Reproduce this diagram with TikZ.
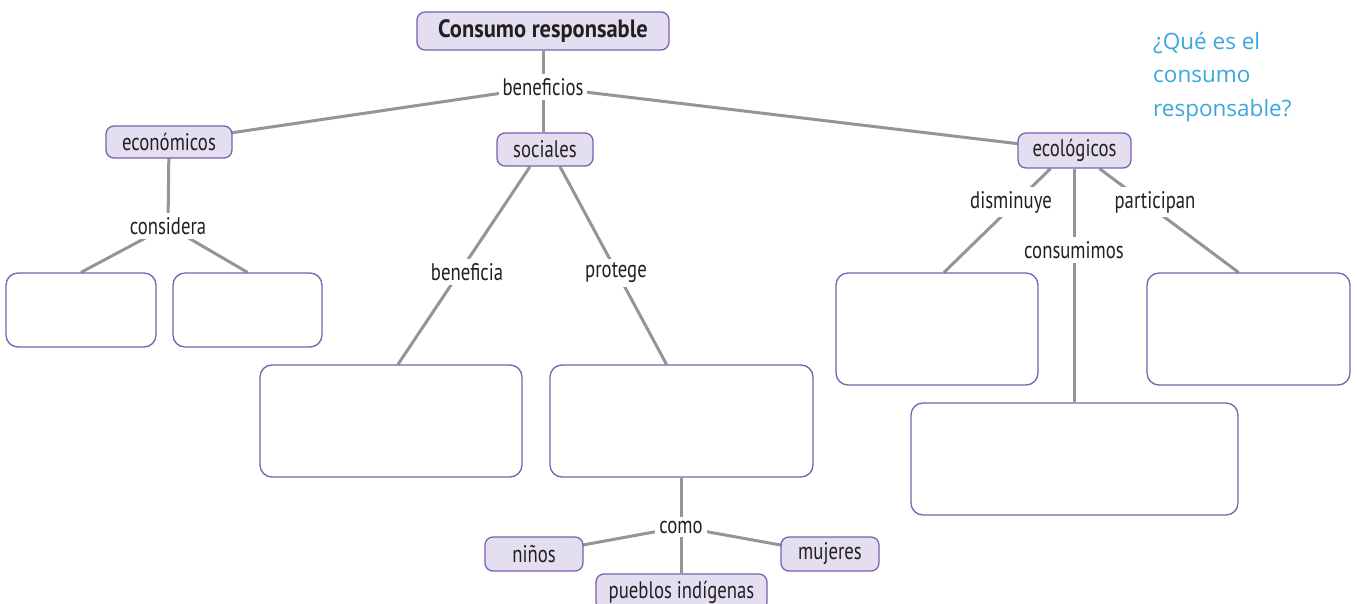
\documentclass[tikz,border=0pt]{standalone}
\usepackage{fontspec}
\setmainfont{PT Sans}[FakeStretch=0.78]
\newfontfamily\titlefont{PT Sans}[FakeStretch=0.9]
\newfontfamily\qfont{Open Sans}
\usetikzlibrary{calc,backgrounds}
\definecolor{boxborder}{HTML}{7B5FB0}
\definecolor{boxfill}{HTML}{E4DFF0}
\definecolor{linegray}{HTML}{959595}
\definecolor{txt}{HTML}{231F20}
\definecolor{qblue}{HTML}{3BA6DD}
\begin{document}
\begin{tikzpicture}[x=1pt,y=-1pt,
  concept/.style={draw=boxborder, fill=boxfill, rounded corners=8pt, line width=1.3pt, inner sep=0pt, text=txt, font=\fontsize{24}{26}\selectfont},
  lab/.style={fill=white, inner sep=4pt, text=txt, font=\fontsize{24}{26}\selectfont},
  blank/.style={draw=boxborder, fill=white, rounded corners=12pt, line width=1.3pt, inner sep=0pt},
  link/.style={draw=linegray, line width=3pt}]
\useasboundingbox (0,0) rectangle (1357,604);
% concept boxes
\node[concept, minimum width=252, minimum height=38, font=\titlefont\fontsize{25}{27}\selectfont\bfseries] (title) at (543,31) {Consumo responsable};
\node[concept, minimum width=126, minimum height=32] (econ) at (169,142) {económicos};
\node[concept, minimum width=96, minimum height=33] (soc) at (545,149.5) {sociales};
\node[concept, minimum width=113, minimum height=35] (eco) at (1074.5,150.5) {ecológicos};
\node[concept, minimum width=98, minimum height=34] (ninos) at (534,554) {niños};
\node[concept, minimum width=98, minimum height=34] (mujeres) at (830,554) {mujeres};
\node[concept, minimum width=171, minimum height=36] (pueblos) at (681.5,592) {pueblos indígenas};
% blank boxes
\node[blank, minimum width=150, minimum height=74] (e1) at (81,310) {};
\node[blank, minimum width=149, minimum height=74] (e2) at (247.5,310) {};
\node[blank, minimum width=262, minimum height=112] (boxB) at (391,421) {};
\node[blank, minimum width=263, minimum height=112] (boxP) at (681.5,421) {};
\node[blank, minimum width=202, minimum height=112] (boxD) at (937,329) {};
\node[blank, minimum width=203, minimum height=112] (boxPa) at (1248.5,329) {};
\node[blank, minimum width=327, minimum height=112] (boxC) at (1074.5,459) {};
% link labels
\node[lab] (benef) at (543,87) {beneficios};
\node[lab] (considera) at (168,226) {considera};
\node[lab] (beneficia) at (467,272) {beneficia};
\node[lab] (protege) at (616,273) {protege};
\node[lab] (disminuye) at (1011,202) {disminuye};
\node[lab] (participan) at (1155,202) {participan};
\node[lab] (consumimos) at (1074,250) {consumimos};
\node[lab] (como) at (681,527) {como};
% question
\node[anchor=north west, inner sep=0pt, align=left, text=qblue, font=\qfont\fontsize{22.5}{33.5}\selectfont] (q) at (1153,32) {¿Qué es el\\consumo\\responsable?};
% connectors
\begin{scope}[on background layer]
\draw[link] (title.south) -- (title.south |- soc.north);
\draw[link] (econ.center) -- (benef.center) -- (eco.center);
\draw[link] (econ.center) -- (considera.center);
\draw[link] (considera.center) -- (e1.north);
\draw[link] (considera.center) -- (e2.north);
\draw[link] ($(soc.south)+(-15,0)$) -- ($(boxB.north)+(7,0)$);
\draw[link] ($(soc.south)+(15,0)$) -- ($(boxP.north)+(-15,0)$);
\draw[link] ($(eco.south)+(-24,0)$) -- ($(boxD.north)+(7,0)$);
\draw[link] ($(eco.south)+(25,0)$) -- ($(boxPa.north)+(-10,0)$);
\draw[link] (eco.south) -- (boxC.north);
\draw[link] (boxP.south) -- (pueblos.north);
\draw[link] (ninos.center) -- (como.center) -- (mujeres.center);
\end{scope}
\end{tikzpicture}
\end{document}
